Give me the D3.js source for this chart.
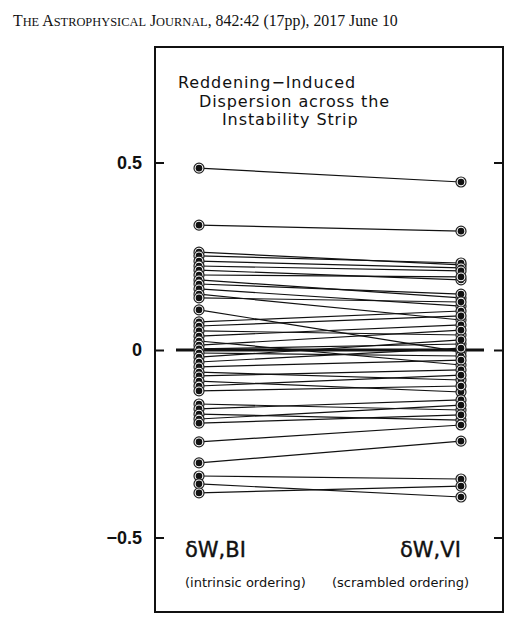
<!DOCTYPE html>
<html>
<head>
<meta charset="utf-8">
<script src="https://cdn.jsdelivr.net/npm/d3@7"></script>
<style>
    body { margin: 0; background: #fff; }
    svg { display: block; }
</style>
</head>
<body>
<div id="chart"></div>
<script>
// dispersion per star, intrinsic ordering (BI) and the matching star in scrambled ordering (VI)
const bi = [0.485, 0.333, 0.261, 0.251, 0.237, 0.224, 0.213, 0.200, 0.187, 0.176,
    0.163, 0.149, 0.139, 0.107, 0.075, 0.064, 0.051, 0.037, 0.024, 0.013,
    0.003, -0.008, -0.019, -0.032, -0.045, -0.059, -0.069, -0.083, -0.096, -0.109,
    -0.144, -0.157, -0.171, -0.184, -0.195, -0.245, -0.301, -0.336, -0.357, -0.381];
const vi = [0.448, 0.317, 0.227, 0.232, 0.219, 0.211, 0.187, 0.195, 0.139, 0.149,
    0.117, 0.080, 0.128, -0.005, 0.104, 0.091, 0.040, 0.067, -0.040, 0.053,
    0.016, -0.016, 0.027, 0.005, -0.027, -0.080, -0.053, -0.112, -0.067, -0.096,
    -0.160, -0.133, -0.187, -0.147, -0.173, -0.200, -0.243, -0.344, -0.392, -0.363];

const columns = ['BI', 'VI'];
const yTicks = [0.5, 0, -0.5];
const columnLabels = ['δW,BI', 'δW,VI'];
const columnNotes = ['(intrinsic ordering)', '(scrambled ordering)'];
const titleLines = ['Reddening\u2212Induced', 'Dispersion across the', 'Instability Strip'];
const journal = 'The Astrophysical Journal';
const citation = ', 842:42 (17pp), 2017 June 10';

const width = 522;
const height = 621;
const frame = { left: 155, right: 503, top: 47, bottom: 612 };

const svg = d3.select('#chart')
    .append('svg')
    .attr('width', width)
    .attr('height', height);

const x = d3.scalePoint()
    .domain(columns)
    .range([199, 461]);

const y = d3.scaleLinear()
    .domain([-0.5, 0.5])
    .range([537.5, 162.5]);

// journal running head, small caps done by hand (capitals big, rest small)
const head = svg.append('text')
    .attr('x', 13)
    .attr('y', 26)
    .attr('font-family', 'Liberation Serif, Times New Roman, serif')
    .attr('font-size', 15.8)
    .attr('fill', '#111');

journal.split(/(?=[A-Z ])/).forEach(word => {
    const lead = word.match(/^[ A-Z]+/)[0];
    head.append('tspan').attr('font-size', 15.8).text(lead);
    head.append('tspan').attr('font-size', 12.4).text(word.slice(lead.length).toUpperCase());
});
head.append('tspan').attr('font-size', 15.8).text(citation);

// frame
svg.append('rect')
    .attr('x', frame.left)
    .attr('y', frame.top)
    .attr('width', frame.right - frame.left)
    .attr('height', frame.bottom - frame.top)
    .attr('fill', 'none')
    .attr('stroke', '#111')
    .attr('stroke-width', 2);

// ticks on both sides, pointing in
const axisL = svg.append('g')
    .attr('transform', `translate(${frame.left},0)`)
    .call(d3.axisRight(y).tickValues(yTicks).tickSize(9).tickFormat(''));
const axisR = svg.append('g')
    .attr('transform', `translate(${frame.right},0)`)
    .call(d3.axisLeft(y).tickValues(yTicks).tickSize(9).tickFormat(''));
[axisL, axisR].forEach(g => {
    g.select('.domain').remove();
    g.selectAll('line').attr('stroke', '#111').attr('stroke-width', 2);
});

svg.append('g')
    .selectAll('text')
    .data(yTicks)
    .join('text')
    .attr('x', 142)
    .attr('y', d => y(d))
    .attr('dy', '0.36em')
    .attr('text-anchor', 'end')
    .attr('font-family', 'Liberation Sans, Arial, sans-serif')
    .attr('font-weight', 'bold')
    .attr('font-size', 18)
    .attr('fill', '#111')
    .text(d => d === 0 ? '0' : d3.format('.1f')(d).replace('-', '\u2212'));

// zero line
svg.append('line')
    .attr('x1', 176)
    .attr('x2', 484)
    .attr('y1', y(0))
    .attr('y2', y(0))
    .attr('stroke', '#111')
    .attr('stroke-width', 3);

// title
svg.append('g')
    .selectAll('text')
    .data(titleLines)
    .join('text')
    .attr('x', (d, i) => [178, 199, 222][i])
    .attr('y', (d, i) => 88 + i * 18.7)
    .attr('font-family', 'DejaVu Sans, sans-serif')
    .attr('font-size', 16)
    .attr('letter-spacing', 0.9)
    .attr('fill', '#111')
    .text(d => d);

// connecting lines
const pairs = bi.map((b, i) => ({ b, v: vi[i] }));

svg.append('g')
    .selectAll('line')
    .data(pairs)
    .join('line')
    .attr('x1', x('BI'))
    .attr('x2', x('VI'))
    .attr('y1', d => y(d.b))
    .attr('y2', d => y(d.v))
    .attr('stroke', '#111')
    .attr('stroke-width', 1.2);

// ring + dot markers
const points = pairs.flatMap(d => [{ k: 'BI', v: d.b }, { k: 'VI', v: d.v }]);

const marks = svg.append('g')
    .selectAll('g')
    .data(points)
    .join('g')
    .attr('transform', d => `translate(${x(d.k)},${y(d.v)})`);

marks.append('circle')
    .attr('r', 5)
    .attr('fill', '#fff')
    .attr('stroke', '#222')
    .attr('stroke-width', 1.2);

marks.append('circle')
    .attr('r', 3.3)
    .attr('fill', '#111');

// column labels
svg.append('g')
    .selectAll('text')
    .data(columnLabels)
    .join('text')
    .attr('x', (d, i) => [185, 400][i])
    .attr('y', 557)
    .attr('font-family', 'DejaVu Sans, sans-serif')
    .attr('font-size', 21)
    .attr('stroke', '#111')
    .attr('stroke-width', 0.4)
    .attr('fill', '#111')
    .text(d => d);

svg.append('g')
    .selectAll('text')
    .data(columnNotes)
    .join('text')
    .attr('x', (d, i) => [185, 332][i])
    .attr('y', 587)
    .attr('font-family', 'DejaVu Sans, sans-serif')
    .attr('font-size', 13)
    .attr('fill', '#111')
    .text(d => d);
</script>
</body>
</html>
